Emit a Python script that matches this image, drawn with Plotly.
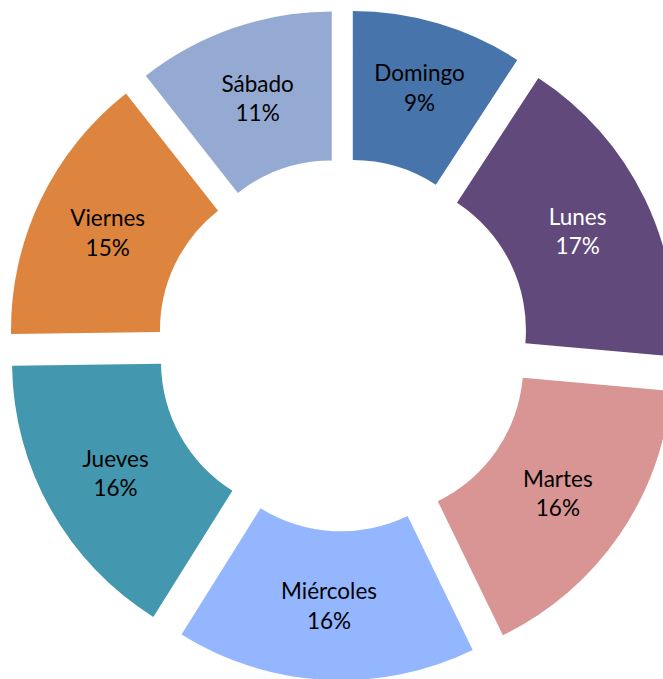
import plotly.graph_objects as go

days = ["Domingo", "Lunes", "Martes", "Miércoles", "Jueves", "Viernes", "Sábado"]
shares = [9.2, 17.2, 16.4, 16.1, 15.9, 14.6, 10.6]
colors = ["#4774AA", "#614A7B", "#D99594", "#94B6FE", "#4398AF", "#DD853F", "#95AAD3"]
text_colors = ["#000000", "#FFFFFF", "#000000", "#000000", "#000000", "#000000", "#000000"]

fig = go.Figure(go.Pie(
    labels=days,
    values=shares,
    sort=False,
    direction="clockwise",
    rotation=0,
    hole=0.505,
    pull=[0.1143] * len(days),
    marker=dict(colors=colors, line=dict(width=0)),
    texttemplate="%{label}<br>%{percent:.0%}",
    textposition="inside",
    insidetextorientation="horizontal",
    insidetextfont=dict(family="Lato, Carlito, sans-serif", size=22.5, color=text_colors),
    domain=dict(x=[0.0111, 0.9889], y=[0, 1]),
    showlegend=False,
    hoverinfo="label+percent",
))

fig.update_layout(
    width=686,
    height=690,
    margin=dict(l=0, r=0, t=0, b=0),
    paper_bgcolor="white",
    plot_bgcolor="white",
    uniformtext=dict(minsize=22, mode="show"),
)

fig.write_html(
    "out.html",
    config={"displayModeBar": False},
    post_script=(
        "document.documentElement.style.overflow='hidden';"
        "document.body.style.margin='0';"
        "document.body.style.overflow='hidden';"
    ),
)
